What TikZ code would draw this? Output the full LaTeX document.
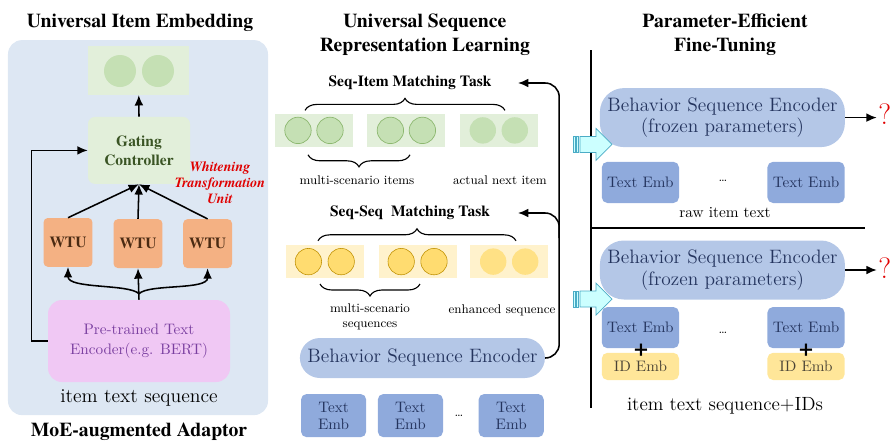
\documentclass[tikz,border=0pt]{standalone}
\usepackage{fontspec}
\setmainfont{Latin Modern Roman}
\newfontfamily\termes{TeX Gyre Termes}
\usetikzlibrary{arrows.meta,decorations.pathreplacing,positioning}

\definecolor{pnlblue}{HTML}{DDE7F3}
\definecolor{embgreen}{HTML}{E2EFDA}
\definecolor{dotgreen}{HTML}{C5E0B4}
\definecolor{dotgreenline}{HTML}{8DB870}
\definecolor{gctext}{HTML}{3A5424}
\definecolor{wtuorange}{HTML}{F4B183}
\definecolor{wtutext}{HTML}{4A2A12}
\definecolor{encpink}{HTML}{F0C8F4}
\definecolor{enctext}{HTML}{7A3FA0}
\definecolor{seqyellow}{HTML}{FFF2CC}
\definecolor{dotyellow}{HTML}{FFDC70}
\definecolor{dotyellowline}{HTML}{BF9000}
\definecolor{bseblue}{HTML}{B4C7E7}
\definecolor{teblue}{HTML}{8FAADC}
\definecolor{navytext}{HTML}{24345E}
\definecolor{idyellow}{HTML}{FFE699}
\definecolor{idtext}{HTML}{4B4436}
\definecolor{cyanfill}{HTML}{CCFFFF}
\definecolor{cyanline}{HTML}{4BACC6}
\definecolor{wtured}{HTML}{E00000}

\begin{document}
\begin{tikzpicture}
\tikzset{
    TTL/.style={font=\termes\fontsize{14}{16.5}\selectfont\bfseries, align=center},
    TSK/.style={font=\termes\fontsize{11}{13}\selectfont\bfseries},
    LBL/.style={font=\fontsize{9}{10.8}\selectfont, align=center},
    PNL/.style={fill=pnlblue, rounded corners=0.35cm},
    EMB/.style={fill=embgreen, minimum width=1.95cm, minimum height=0.83cm},
    SEQ/.style={fill=seqyellow, minimum width=1.95cm, minimum height=0.83cm},
    GD/.style={circle, fill=dotgreen, draw=dotgreenline, line width=0.5pt,
               minimum size=0.66cm, inner sep=0pt},
    GDF/.style={circle, fill=dotgreen, minimum size=0.66cm, inner sep=0pt},
    YD/.style={circle, fill=dotyellow, draw=dotyellowline, line width=0.4pt,
               minimum size=0.66cm, inner sep=0pt},
    YDF/.style={circle, fill=dotyellow!85, minimum size=0.66cm, inner sep=0pt},
    GC/.style={fill=embgreen, rounded corners=5pt, minimum width=2.55cm,
               minimum height=1.675cm, align=center,
               font=\termes\fontsize{11}{13.5}\selectfont\bfseries, text=gctext},
    WHT/.style={font=\termes\fontsize{10}{11.5}\selectfont\bfseries\itshape,
                text=wtured, align=center},
    WTU/.style={fill=wtuorange, rounded corners=3pt, minimum width=1.22cm,
                minimum height=1.22cm, font=\termes\fontsize{11}{13}\selectfont\bfseries,
                text=wtutext},
    ENC/.style={fill=encpink, rounded corners=0.35cm, minimum width=4.55cm,
                minimum height=2.05cm, align=center,
                font=\fontsize{10.8}{14}\selectfont, text=enctext},
    BSE/.style={fill=bseblue, rounded corners=0.5cm, align=center,
                font=\fontsize{13.8}{15.6}\selectfont, text=navytext},
    TE/.style={fill=teblue, rounded corners=4pt, align=center,
               font=\fontsize{10.8}{12.3}\selectfont, text=navytext},
    IDE/.style={fill=idyellow, rounded corners=4pt, align=center,
                font=\fontsize{10.8}{12.3}\selectfont, text=idtext},
    QM/.style={font=\fontsize{21}{24}\selectfont, text=wtured, inner sep=1pt},
    PLUS/.style={font=\termes\fontsize{18}{18}\selectfont\bfseries, inner sep=0pt},
    ARR/.style={-{Latex[length=2.6mm,width=2.2mm]}, line width=1.1pt},
    BRC/.style={decorate, decoration={brace, amplitude=0.3cm}, line width=0.8pt},
}
\useasboundingbox (0,0) rectangle (22.275,-11.1);

%── Universal item embedding ───────────────────────────────────
\node[TTL] (uieTitle) at (3.50,-0.58) {Universal Item Embedding};
\node[PNL, minimum width=6.50cm, minimum height=9.375cm] (pnl) at (3.45,-5.69) {};

\node[EMB, minimum width=2.52cm, minimum height=1.22cm] (emb) at (3.47,-1.76) {};
\node[GDF, minimum size=0.80cm] (embA) at (3.00,-1.775) {};
\node[GDF, minimum size=0.80cm] (embB) at (3.95,-1.775) {};

\node[GC] (gc) at (3.475,-3.76) {Gating\\Controller};
\node[WHT] (whtLbl) at (5.50,-4.57) {Whitening\\Transformation\\Unit};

\node[WTU] (w1) at (1.70,-6.06) {WTU};
\node[WTU] (w2) at (3.45,-6.09) {WTU};
\node[WTU] (w3) at (5.19,-6.09) {WTU};

\node[ENC] (enc) at (3.475,-8.525) {Pre-trained Text\\Encoder(e.g. BERT)};
\node[font=\fontsize{14}{16}\selectfont] (itemSeq) at (3.475,-9.95) {item text sequence};
\node[TTL] (moeTitle) at (3.475,-10.80) {MoE-augmented Adaptor};

\draw[ARR] (gc.north) -- (emb.south);
\draw[ARR] (w1.north) -- (gc.south);
\draw[ARR] (w2.north) -- (gc.south);
\draw[ARR] (w3.north) -- (gc.south);
\draw[ARR] (enc.west) -- ++(-0.40,0) |- (gc.west);

% split from the encoder into the three WTUs
\coordinate (junc) at ([yshift=0.15cm]enc.north);
\draw[ARR] (enc.north) -- (w2.south);
\draw[ARR] (junc) .. controls +(-0.25,0.25) and +(0,-0.55) .. (w1.south);
\draw[ARR] (junc) .. controls +(0.25,0.25) and +(0,-0.55) .. (w3.south);

%── Universal sequence representation learning ─────────────────
\node[TTL] (usrTitle) at (10.62,-0.87) {Universal Sequence\\Representation Learning};

% seq-item task
\node[TSK] (siTask) at (10.25,-2.075) {Seq-Item Matching Task};
\draw[BRC] (7.625,-2.76) -- (12.625,-2.76);
\node[EMB] (gi1) at (7.85,-3.26) {};
\node[EMB] (gi2) at (10.16,-3.26) {};
\node[EMB] (gi3) at (12.47,-3.26) {};
\node[GD]  (gi1a) at (7.45,-3.26) {};   \node[GD]  (gi1b) at (8.25,-3.26) {};
\node[GD]  (gi2a) at (9.76,-3.26) {};   \node[GD]  (gi2b) at (10.56,-3.26) {};
\node[GDF] (gi3a) at (12.07,-3.26) {};  \node[GDF] (gi3b) at (12.87,-3.26) {};
\draw[BRC] (10.25,-3.87) -- (7.70,-3.87);
\node[LBL] (msItems) at (8.925,-4.50) {multi-scenario items};
\node[LBL] (nextItem) at (12.50,-4.50) {actual next item};

% seq-seq task
\node[TSK] (ssTask) at (10.25,-5.325) {Seq-Seq~ Matching Task};
\draw[BRC] (7.95,-6.02) -- (12.90,-6.02);
\node[SEQ] (sq1) at (8.12,-6.54) {};
\node[SEQ] (sq2) at (10.44,-6.54) {};
\node[SEQ] (sq3) at (12.73,-6.54) {};
\node[YD]  (sq1a) at (7.71,-6.54) {};   \node[YD]  (sq1b) at (8.53,-6.54) {};
\node[YD]  (sq2a) at (10.03,-6.54) {};  \node[YD]  (sq2b) at (10.85,-6.54) {};
\node[YDF] (sq3a) at (12.33,-6.54) {};  \node[YDF] (sq3b) at (13.13,-6.54) {};
\draw[BRC] (10.50,-7.10) -- (8.00,-7.10);
\node[LBL] (msSeqs) at (9.25,-7.93) {multi-scenario\\sequences};
\node[LBL] (enhSeq) at (12.55,-7.75) {enhanced sequence};

% encoder and its inputs
\node[BSE, minimum width=6.125cm, minimum height=1.0cm] (bse) at (10.56,-8.95) {Behavior Sequence Encoder};
\node[TE, minimum width=1.63cm, minimum height=1.08cm] (te1) at (8.34,-10.39) {Text\\Emb};
\node[TE, minimum width=1.63cm, minimum height=1.08cm] (te2) at (10.26,-10.39) {Text\\Emb};
\node[TE, minimum width=1.63cm, minimum height=1.08cm] (te3) at (12.78,-10.39) {Text\\Emb};
\node[LBL] (teDots) at (11.475,-10.39) {\ldots};

% feedback to both tasks
\coordinate (siIn) at (12.95,-2.075);
\coordinate (ssIn) at (12.95,-5.325);
\coordinate (bend) at (13.98,-2.075);
\coordinate (fork) at (13.98,-5.95);
\draw[ARR, rounded corners=0.35cm] (bse.east) -| (bend) -- (siIn);
\draw[ARR, rounded corners=0.35cm] (fork) |- (ssIn);

%── Parameter-efficient fine-tuning ────────────────────────────
\node[TTL] (peftTitle) at (18.125,-0.87) {Parameter-Efficient\\Fine-Tuning};

% axis-like dividers
\draw[line width=1.4pt] (14.775,-1.25) -- (14.775,-10.20);
\draw[line width=1.4pt] (14.775,-5.70) -- (21.625,-5.70);

% upper case: raw item text
\node[BSE, minimum width=6.125cm, minimum height=1.475cm, rounded corners=0.6cm] (bseF1) at (18.06,-2.94) {Behavior Sequence Encoder\\(frozen parameters)};
\node[QM] (q1) at (22.12,-2.85) {?};
\draw[ARR] (bseF1.east) -- (bseF1.east -| q1.west);
\node[TE, minimum width=1.93cm, minimum height=1.03cm] (teF1) at (16.01,-4.56) {Text Emb};
\node[TE, minimum width=1.93cm, minimum height=1.03cm] (teF2) at (20.15,-4.56) {Text Emb};
\node[LBL] (teDotsF1) at (18.075,-4.525) {\ldots};
\node[font=\fontsize{10.9}{13}\selectfont] (rawTxt) at (18.125,-5.325) {raw item text};

% lower case: text + IDs
\node[BSE, minimum width=6.125cm, minimum height=1.475cm, rounded corners=0.6cm] (bseF2) at (18.06,-6.75) {Behavior Sequence Encoder\\(frozen parameters)};
\node[QM] (q2) at (22.12,-6.70) {?};
\draw[ARR] (bseF2.east) -- (bseF2.east -| q2.west);
\node[TE, minimum width=1.93cm, minimum height=1.03cm] (teF3) at (16.01,-8.19) {Text Emb};
\node[TE, minimum width=1.93cm, minimum height=1.03cm] (teF4) at (20.15,-8.19) {Text Emb};
\node[IDE, minimum width=1.93cm, minimum height=0.68cm] (idF1) at (16.01,-9.16) {ID Emb};
\node[IDE, minimum width=1.93cm, minimum height=0.68cm] (idF2) at (20.15,-9.16) {ID Emb};
\node[PLUS] (plus1) at (16.025,-8.75) {+};
\node[PLUS] (plus2) at (20.15,-8.75) {+};
\node[LBL] (teDotsF2) at (18.075,-8.325) {\ldots};
\node[font=\fontsize{13.6}{16}\selectfont] (txtIds) at (18.125,-10.15) {item text sequence+IDs};

% striped block arrows feeding the frozen encoders
\fill[cyanfill, draw=cyanline, line width=0.5pt] (14.325,-3.41) rectangle (14.375,-3.81);
\fill[cyanfill, draw=cyanline, line width=0.5pt] (14.42,-3.41) rectangle (14.47,-3.81);
\filldraw[fill=cyanfill, draw=cyanline, line width=0.5pt]
    (14.50,-3.41) -- (14.90,-3.41) -- (14.90,-3.21) -- (15.30,-3.61)
    -- (14.90,-4.01) -- (14.90,-3.81) -- (14.50,-3.81) -- cycle;
\fill[cyanfill, draw=cyanline, line width=0.5pt] (14.325,-7.275) rectangle (14.375,-7.675);
\fill[cyanfill, draw=cyanline, line width=0.5pt] (14.42,-7.275) rectangle (14.47,-7.675);
\filldraw[fill=cyanfill, draw=cyanline, line width=0.5pt]
    (14.50,-7.275) -- (14.90,-7.275) -- (14.90,-7.075) -- (15.30,-7.475)
    -- (14.90,-7.875) -- (14.90,-7.675) -- (14.50,-7.675) -- cycle;

\end{tikzpicture}
\end{document}
